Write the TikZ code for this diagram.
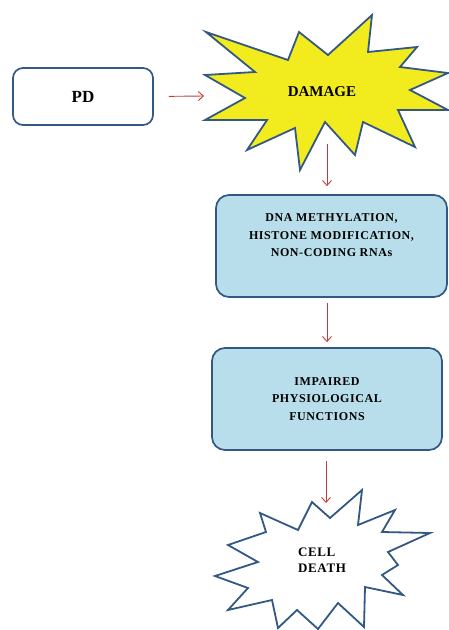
\documentclass[tikz,border=0pt]{standalone}
\usepackage{fontspec}
\setmainfont{Liberation Serif}
\usetikzlibrary{arrows.meta}

\definecolor{edgeblue}{RGB}{52,88,132}
\definecolor{boxblue}{RGB}{183,222,234}
\definecolor{burst}{RGB}{242,236,30}
\definecolor{arrowred}{RGB}{196,58,58}

\begin{document}
\begin{tikzpicture}[x=1pt,y=-1pt,
    box/.style={draw=edgeblue,line width=1.7pt,rounded corners=13pt,align=center,
        font=\bfseries\fontsize{12}{17.5}\selectfont\addfontfeatures{LetterSpace=5}},
    flow/.style={draw=arrowred,line width=0.9pt,-{Straight Barb[length=5pt,width=9pt]}},
    burstline/.style={draw=edgeblue,line width=1.8pt,line join=miter}]

    \useasboundingbox (0,0) rectangle (449,630);

    % Place nodes
    \node [box,fill=white,minimum width=140pt,minimum height=57pt,rounded corners=10pt,
        font=\bfseries\fontsize{17}{20}\selectfont] (pd) at (83,96.5) {PD};

    \filldraw [burstline,fill=burst] (206,32) -- (288,60) -- (299,32) -- (328,55) -- (372,15)
        -- (368,52) -- (417,47) -- (400,67) -- (448,73) -- (410,90) -- (448,110) -- (398,110)
        -- (415,147) -- (363,122) -- (355,155) -- (325,122) -- (300,170) -- (295,128)
        -- (247,150) -- (267,120) -- (205,120) -- (245,98) -- (205,75) -- (255,72) -- cycle;
    \node [font=\bfseries\fontsize{15}{18}\selectfont] (damage) at (322,92) {DAMAGE};

    \node [box,fill=boxblue,minimum width=231pt,minimum height=102pt] (dna) at (331.5,246)
        {DNA METHYLATION,\\HISTONE MODIFICATION,\\NON-CODING RNAs\\[4pt]};

    \node [box,fill=boxblue,minimum width=230pt,minimum height=102pt] (impaired) at (327,399)
        {IMPAIRED\\PHYSIOLOGICAL\\FUNCTIONS};

    \filldraw [burstline,fill=white] (260,513) -- (298,530) -- (312,502) -- (330,518) -- (362,490)
        -- (358,525) -- (395,510) -- (382,532) -- (430,533) -- (388,552) -- (398,565)
        -- (382,575) -- (403,595) -- (365,587) -- (364,627) -- (338,603) -- (318,629)
        -- (297,610) -- (278,628) -- (272,600) -- (228,610) -- (248,588) -- (215,576)
        -- (258,562) -- (228,545) -- (266,532) -- cycle;
    \node [align=left,font=\bfseries\fontsize{13}{15.5}\selectfont\addfontfeatures{LetterSpace=5}]
        (death) at (322,560) {CELL\\DEATH};

    % Connectors
    \coordinate (damage-w) at (204,96);
    \coordinate (damage-s) at (327,144);
    \coordinate (death-n) at (326,503);

    \draw [flow,shorten <=15pt] (pd.east) -- (damage-w);
    \draw [flow,shorten >=8pt] (damage-s) -- (damage-s |- dna.north);
    \draw [flow,shorten <=5pt,shorten >=5pt] (dna.south -| damage-s) -- (damage-s |- impaired.north);
    \draw [flow,shorten <=10pt] (impaired.south -| death-n) -- (death-n);

\end{tikzpicture}
\end{document}
